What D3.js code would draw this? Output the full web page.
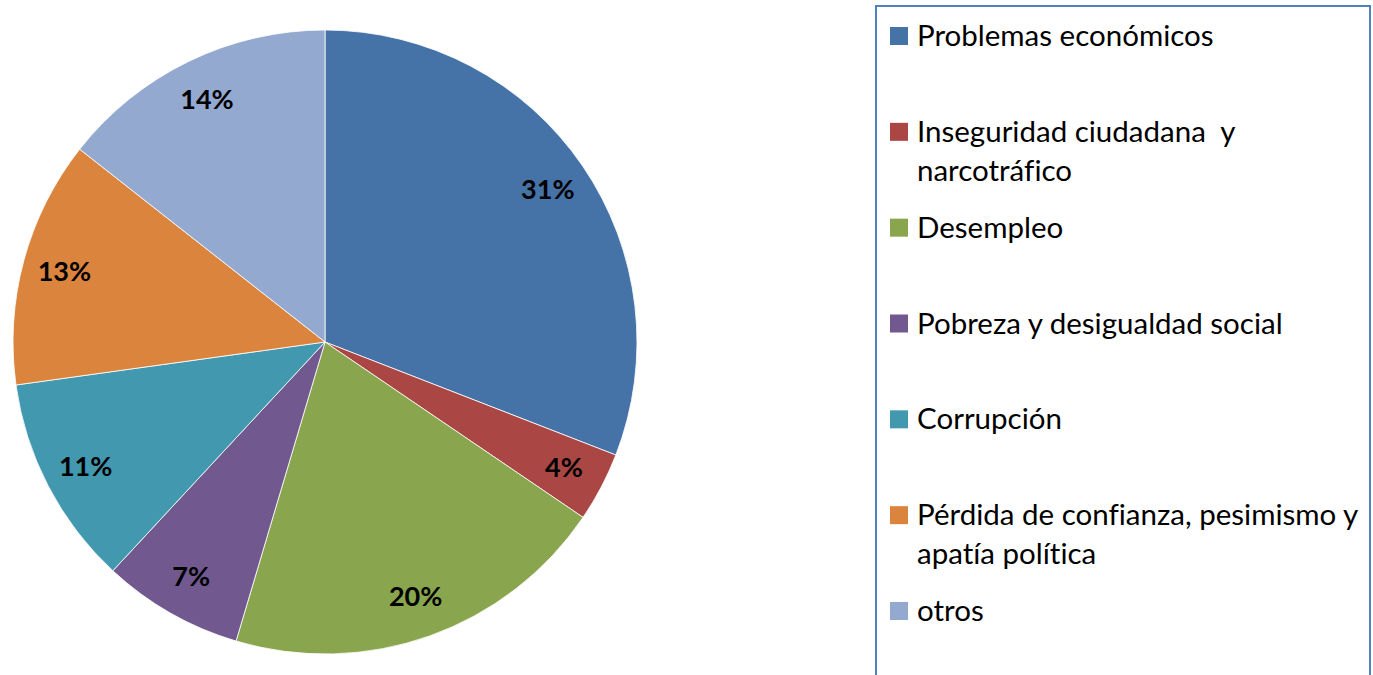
<!doctype html>
<html>
  <head>
    <meta charset="utf-8">
    <title>Pie chart</title>
    <script src="https://d3js.org/d3.v7.min.js"></script>
    <style>
        body {
            margin: 0;
            padding: 0;
            background: #fff;
        }
        svg {
            display: block;
            font-family: Lato, "Open Sans", Arial;
            font-variant-ligatures: none;
        }
        .pct {
            font-weight: bold;
            font-size: 27px;
            fill: #000;
        }
        .legendText {
            font-size: 29.5px;
            fill: #000;
        }
    </style>
  </head>
  <body>
        <div id="chart"></div>
        <script>

            /*
            Data
            */
            var categories = [
                ["Problemas económicos"],
                ["Inseguridad ciudadana  y", "narcotráfico"],
                ["Desempleo"],
                ["Pobreza y desigualdad social"],
                ["Corrupción"],
                ["Pérdida de confianza, pesimismo y", "apatía política"],
                ["otros"]
            ];
            var values = [30.9, 3.6, 20.1, 7.3, 10.9, 12.8, 14.4];
            var colors = ["#4572a7", "#aa4643", "#89a54e", "#71588f", "#4198af", "#db843d", "#93a9cf"];

            var width = 1373;
            var height = 675;
            var radius = 312;
            var cx = 325, cy = 342;

            var svg = d3.select("#chart")
                .append("svg")
                .attr("width", width)
                .attr("height", height);

            /*
            Pie
            */
            var pie = d3.pie()
                .sort(null)
                .value((d) => d);

            var arc = d3.arc()
                .innerRadius(0)
                .outerRadius(radius);

            var labelArc = d3.arc()
                .innerRadius(270)
                .outerRadius(270);

            var g = svg.append("g")
                .attr("transform", "translate(" + cx + "," + cy + ")");

            var arcs = pie(values);

            g.selectAll("path")
                .data(arcs)
                .enter()
                .append("path")
                .attr("d", arc)
                .style("fill", (d, i) => colors[i])
                .style("stroke", "#fff")
                .style("stroke-width", 0.8);

            var total = d3.sum(values);
            g.selectAll("text")
                .data(arcs)
                .enter()
                .append("text")
                .attr("class", "pct")
                .attr("transform", (d) => "translate(" + labelArc.centroid(d) + ")")
                .attr("text-anchor", "middle")
                .attr("dy", "0.35em")
                .text((d) => Math.round(d.value / total * 100) + "%");

            /*
            Legend
            */
            svg.append("rect")
                .attr("x", 876)
                .attr("y", 6)
                .attr("width", 494)
                .attr("height", 700)
                .attr("fill", "none")
                .attr("stroke", "#4f81bd")
                .attr("stroke-width", 2);

            var legendY = d3.scaleLinear()
                .domain([0, 6])
                .range([35, 610]);

            var item = svg.selectAll(".legendItem")
                .data(categories)
                .enter()
                .append("g")
                .attr("class", "legendItem")
                .attr("transform", (d, i) => "translate(0," + legendY(i) + ")");

            item.append("rect")
                .attr("x", 890)
                .attr("y", -8)
                .attr("width", 18)
                .attr("height", 18)
                .style("fill", (d, i) => colors[i]);

            item.append("text")
                .attr("class", "legendText")
                .attr("x", 917)
                .attr("y", 11)
                .each(function (d) {
                    var t = d3.select(this);
                    d.forEach((line, k) => {
                        t.append("tspan")
                            .attr("x", 917)
                            .attr("dy", k === 0 ? 0 : 39)
                            .attr("xml:space", "preserve")
                            .text(line);
                    });
                });

        </script>
    </body>
</html>
